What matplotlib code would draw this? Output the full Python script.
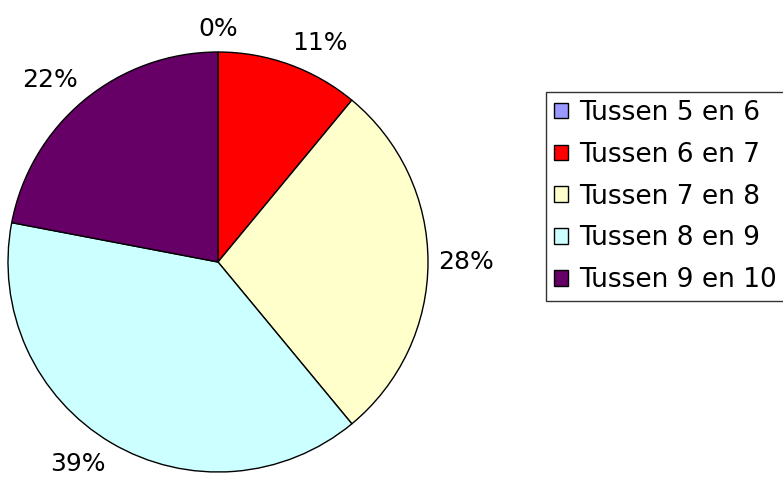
import numpy as np
import matplotlib.pyplot as plt

# Gegevens
categories = ['Tussen 5 en 6', 'Tussen 6 en 7', 'Tussen 7 en 8', 'Tussen 8 en 9', 'Tussen 9 en 10']
values = [0, 11, 28, 39, 22]
colors = ['#9999FF', '#FF0000', '#FFFFCC', '#CCFFFF', '#660066']

fig = plt.figure(figsize=(7.83, 4.84), dpi=100)
ax = fig.add_axes([0, 0, 1, 1])

cx, cy, r = 218, 484 - 262, 210
wedges, texts = ax.pie(
    values, colors=colors, startangle=90, counterclock=False,
    center=(cx, cy), radius=r,
    wedgeprops=dict(edgecolor='black', linewidth=1.0),
)

# Labels zoals Excel: hoek van het tekstvak tegen de rand van de taart
total = sum(values)
for w, v in zip(wedges, values):
    theta = np.deg2rad((w.theta1 + w.theta2) / 2)
    c, s = np.cos(theta), np.sin(theta)
    ha = 'left' if c > 0.1 else ('right' if c < -0.1 else 'center')
    va = 'bottom' if s > 0.1 else ('top' if s < -0.1 else 'center')
    d = 1.05 * r
    ax.text(cx + d * c, cy + d * s, f'{v / total * 100:.0f}%', ha=ha, va=va, fontsize=18)

ax.set_xlim(0, 783)
ax.set_ylim(0, 484)
ax.set_aspect('equal')
ax.axis('off')

leg = fig.legend(wedges, categories, loc='upper left', bbox_to_anchor=(546 / 783, 1 - 92 / 484),
                 fontsize=19, frameon=True, fancybox=False, borderpad=0.3,
                 handlelength=0.53, handleheight=0.53, handletextpad=0.42, labelspacing=0.6,
                 borderaxespad=0)
leg.get_frame().set_edgecolor('black')
leg.get_frame().set_linewidth(1.0)
for h in leg.legend_handles:
    h.set_edgecolor('black')
    h.set_linewidth(1.0)

plt.savefig('out.png', dpi=100)
